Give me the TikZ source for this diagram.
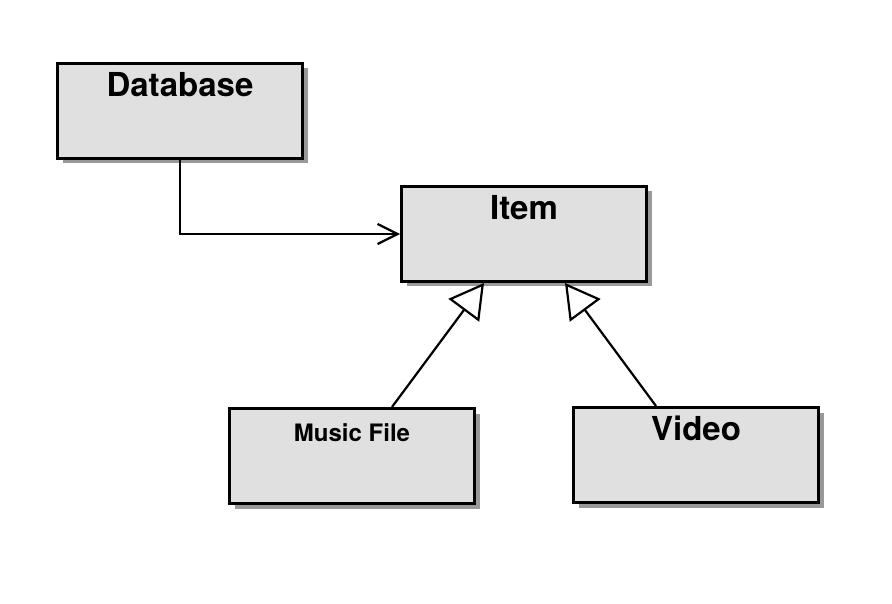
\documentclass[tikz,border=0pt]{standalone}
\usepackage{fontspec}
\setsansfont{TeX Gyre Heros}
\usetikzlibrary{positioning,shadows,arrows.meta}

\begin{document}
\begin{tikzpicture}[x=1pt,y=-1pt,line width=2.2pt,
	cls/.style={draw,line width=3pt,fill=black!12,inner sep=0pt,
		minimum width=245pt,minimum height=95pt,
		text height=33pt,text depth=62pt,font=\sffamily\bfseries\fontsize{33}{38}\selectfont,
		drop shadow={shadow xshift=5pt,shadow yshift=-5pt,fill=black,opacity=0.4}},
	uses/.style={-{Straight Barb[length=20pt,width=20pt]}},
	isa/.style={-{Triangle[open,length=34pt,width=38pt]}}]

\useasboundingbox (0,0) rectangle (892,604);

\node[cls] (db) at (180,111) {Database};
\node[cls] (item) [below right=25pt and 96pt of db] {Item};

\node[cls,font=\sffamily\bfseries\fontsize{24}{28}\selectfont] (mf) [below=124pt of item,xshift=-172pt] {Music File};
\node[cls] (vid) [below=123pt of item,xshift=172pt] {Video};

\draw[uses] (db.south) |- (item.west);

\draw[isa] ([xshift=40pt]mf.north) -- ([xshift=-40pt]item.south);
\draw[isa] ([xshift=-40pt]vid.north) -- ([xshift=41pt]item.south);

\end{tikzpicture}
\end{document}
